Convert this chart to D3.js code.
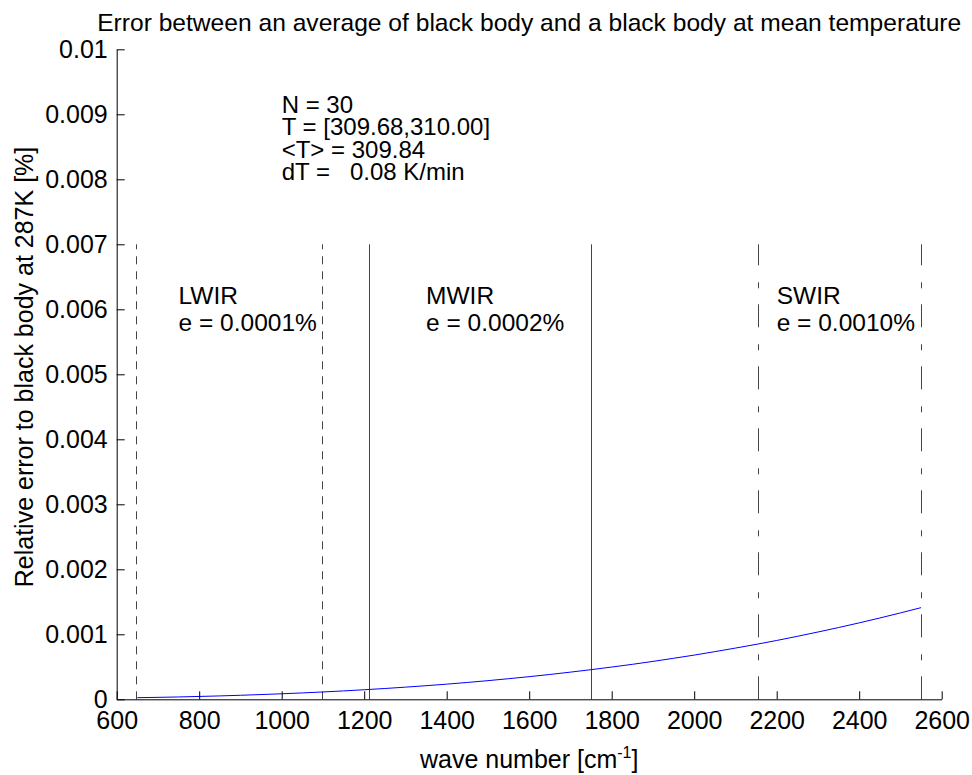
<!DOCTYPE html>
<html><head><meta charset="utf-8">
<script src="https://cdn.jsdelivr.net/npm/d3@7"></script>
<style>
html,body{margin:0;padding:0;background:#fff;}
text{font-family:"Liberation Sans",Arial,Helvetica,sans-serif;fill:#000;}
</style></head>
<body><svg id="chart" width="972" height="775"></svg>
<script>
// ---- data ----
const waveNumbers = [650,700,750,800,850,900,950,1000,1050,1100,1150,1200,1250,1300,1350,1400,1450,1500,1550,1600,1650,1700,1750,1800,1850,1900,1950,2000,2050,2100,2150,2200,2250,2300,2350,2400,2450,2500,2550];
const relError = [0.000025,0.00003,0.000036,0.000044,0.000052,0.000062,0.000073,0.000085,0.000098,0.000113,0.000129,0.000147,0.000166,0.000187,0.000209,0.000233,0.000259,0.000287,0.000317,0.000348,0.000382,0.000418,0.000456,0.000496,0.000538,0.000583,0.000631,0.00068,0.000733,0.000788,0.000845,0.000905,0.000969,0.001035,0.001104,0.001176,0.001251,0.001329,0.00141];
const bandNames = ["LWIR","MWIR","SWIR"];
const bandErrors = ["e = 0.0001%","e = 0.0002%","e = 0.0010%"];
const bandEdges = [[646,1097],[1211,1750],[2154,2551]];
const bandLabelX = [750,1350,2200];
const infoLines = ["N = 30","T = [309.68,310.00]","<T> = 309.84","dT =   0.08 K/min"];
const xTicks = [600,800,1000,1200,1400,1600,1800,2000,2200,2400,2600];
const yTicks = [0,0.001,0.002,0.003,0.004,0.005,0.006,0.007,0.008,0.009,0.01];
const titleText = "Error between an average of black body and a black body at mean temperature";
const yLabelText = "Relative error to black body at 287K [%]";

// ---- layout ----
const L=116.7, R=941.7, T=49.3, B=699.3;
const fs = 25;
const svg = d3.select("#chart");
const x = d3.scaleLinear().domain([600,2600]).range([L,R]);
const y = d3.scaleLinear().domain([0,0.01]).range([B,T]);

// band lines
const bandDash = ["8,7", null, "23,16,6,17"];
bandEdges.forEach((edges,i)=>{
  edges.forEach(e=>{
    svg.append("line")
      .attr("x1",Math.round(x(e))+0.5).attr("x2",Math.round(x(e))+0.5)
      .attr("y1",y(0)).attr("y2",y(0.007))
      .attr("stroke","#444").attr("stroke-width",1)
      .attr("stroke-dasharray",bandDash[i]);
  });
});

// curve
const line = d3.line().x((d,i)=>x(waveNumbers[i])).y(d=>y(d));
svg.append("path").datum(relError)
  .attr("d",line).attr("fill","none").attr("stroke","#0000ff").attr("stroke-width",1);

// axes
const xAxis = d3.axisBottom(x).tickValues(xTicks).tickSizeInner(-8).tickSizeOuter(0).tickPadding(12).tickFormat(d3.format("d"));
const gx = svg.append("g").attr("transform",`translate(0,${B})`).call(xAxis);
const yAxis = d3.axisLeft(y).tickValues(yTicks).tickSizeInner(-8).tickSizeOuter(0).tickPadding(9).tickFormat(d=>d===0?"0":d3.format("")(+d.toFixed(3)));
const gy = svg.append("g").attr("transform",`translate(${L},0)`).call(yAxis);
[gx,gy].forEach(g=>{
  g.select(".domain").attr("stroke","#000").attr("stroke-width",1);
  g.selectAll(".tick line").attr("stroke","#000");
  g.selectAll("text").style("font-size",fs+"px").attr("fill","#000").style("font-family",'"Liberation Sans",Arial,sans-serif');
});

// title
svg.append("text").attr("x",(L+R)/2).attr("y",31).attr("text-anchor","middle")
  .style("font-size","24.6px").text(titleText);

// x label
const xl = svg.append("text").attr("x",(L+R)/2).attr("y",768).attr("text-anchor","middle").style("font-size",fs+"px");
xl.append("tspan").text("wave number [cm");
xl.append("tspan").attr("dy",-10).style("font-size","16px").text("-1");
xl.append("tspan").attr("dy",10).text("]");

// y label
svg.append("text").attr("transform",`translate(33,367) rotate(-90)`)
  .attr("text-anchor","middle").style("font-size",fs+"px").text(yLabelText);

// info text
svg.append("g").selectAll("text").data(infoLines).join("text")
  .attr("x",x(1000)).attr("y",(d,i)=>113+i*22.4)
  .style("font-size","24px").style("white-space","pre").attr("xml:space","preserve").text(d=>d);

// band labels
bandNames.forEach((n,i)=>{
  svg.append("text").attr("x",x(bandLabelX[i])).attr("y",304).style("font-size","24.5px").text(n);
  svg.append("text").attr("x",x(bandLabelX[i])).attr("y",331).style("font-size","24.5px").text(bandErrors[i]);
});
</script></body></html>
